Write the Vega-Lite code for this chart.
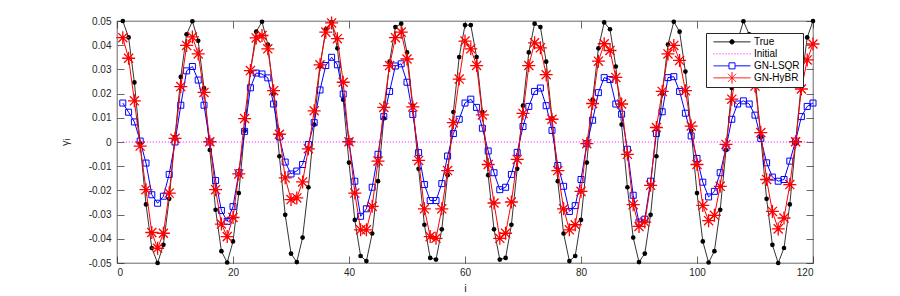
{
"$schema": "https://vega.github.io/schema/vega-lite/v6.json",
"width": 696, "height": 242,
"autosize": {"type": "none"},
"padding": {"left": 117, "top": 21, "right": 87, "bottom": 33},
"background": "white",
"config": {
  "view": {"stroke": "#262626", "strokeWidth": 0.7},
  "font": "Liberation Sans",
  "axis": {"labelFont": "Liberation Sans", "labelFontSize": 10, "labelColor": "#262626", "tickColor": "#262626", "tickWidth": 0.7, "domain": false, "grid": false, "titleFont": "Liberation Sans", "titleFontWeight": "normal", "titleFontSize": 11, "titleColor": "#262626"}
},
"data": {"values": [
{"i":1,"True":0.0500,"Initial":0,"GN-LSQR":0.0161,"GN-HyBR":0.0431},
{"i":2,"True":0.0432,"Initial":0,"GN-LSQR":0.0123,"GN-HyBR":0.0346},
{"i":3,"True":0.0246,"Initial":0,"GN-LSQR":0.0083,"GN-HyBR":0.0170},
{"i":4,"True":-0.0007,"Initial":0,"GN-LSQR":0.0004,"GN-HyBR":-0.0017},
{"i":5,"True":-0.0258,"Initial":0,"GN-LSQR":-0.0087,"GN-HyBR":-0.0197},
{"i":6,"True":-0.0438,"Initial":0,"GN-LSQR":-0.0218,"GN-HyBR":-0.0374},
{"i":7,"True":-0.0500,"Initial":0,"GN-LSQR":-0.0253,"GN-HyBR":-0.0439},
{"i":8,"True":-0.0425,"Initial":0,"GN-LSQR":-0.0224,"GN-HyBR":-0.0377},
{"i":9,"True":-0.0235,"Initial":0,"GN-LSQR":-0.0134,"GN-HyBR":-0.0211},
{"i":10,"True":0.0020,"Initial":0,"GN-LSQR":0.0000,"GN-HyBR":0.0015},
{"i":11,"True":0.0269,"Initial":0,"GN-LSQR":0.0152,"GN-HyBR":0.0229},
{"i":12,"True":0.0445,"Initial":0,"GN-LSQR":0.0294,"GN-HyBR":0.0399},
{"i":13,"True":0.0499,"Initial":0,"GN-LSQR":0.0312,"GN-HyBR":0.0434},
{"i":14,"True":0.0418,"Initial":0,"GN-LSQR":0.0256,"GN-HyBR":0.0364},
{"i":15,"True":0.0223,"Initial":0,"GN-LSQR":0.0152,"GN-HyBR":0.0205},
{"i":16,"True":-0.0033,"Initial":0,"GN-LSQR":0.0000,"GN-HyBR":0.0001},
{"i":17,"True":-0.0280,"Initial":0,"GN-LSQR":-0.0159,"GN-HyBR":-0.0197},
{"i":18,"True":-0.0451,"Initial":0,"GN-LSQR":-0.0283,"GN-HyBR":-0.0339},
{"i":19,"True":-0.0498,"Initial":0,"GN-LSQR":-0.0328,"GN-HyBR":-0.0391},
{"i":20,"True":-0.0411,"Initial":0,"GN-LSQR":-0.0267,"GN-HyBR":-0.0312},
{"i":21,"True":-0.0211,"Initial":0,"GN-LSQR":-0.0127,"GN-HyBR":-0.0132},
{"i":22,"True":0.0046,"Initial":0,"GN-LSQR":0.0044,"GN-HyBR":0.0097},
{"i":23,"True":0.0291,"Initial":0,"GN-LSQR":0.0224,"GN-HyBR":0.0295},
{"i":24,"True":0.0456,"Initial":0,"GN-LSQR":0.0285,"GN-HyBR":0.0430},
{"i":25,"True":0.0497,"Initial":0,"GN-LSQR":0.0281,"GN-HyBR":0.0440},
{"i":26,"True":0.0403,"Initial":0,"GN-LSQR":0.0265,"GN-HyBR":0.0385},
{"i":27,"True":0.0199,"Initial":0,"GN-LSQR":0.0157,"GN-HyBR":0.0212},
{"i":28,"True":-0.0059,"Initial":0,"GN-LSQR":0.0021,"GN-HyBR":0.0032},
{"i":29,"True":-0.0301,"Initial":0,"GN-LSQR":-0.0083,"GN-HyBR":-0.0148},
{"i":30,"True":-0.0461,"Initial":0,"GN-LSQR":-0.0132,"GN-HyBR":-0.0238},
{"i":31,"True":-0.0496,"Initial":0,"GN-LSQR":-0.0120,"GN-HyBR":-0.0231},
{"i":32,"True":-0.0395,"Initial":0,"GN-LSQR":-0.0093,"GN-HyBR":-0.0165},
{"i":33,"True":-0.0187,"Initial":0,"GN-LSQR":-0.0010,"GN-HyBR":-0.0028},
{"i":34,"True":0.0072,"Initial":0,"GN-LSQR":0.0080,"GN-HyBR":0.0129},
{"i":35,"True":0.0312,"Initial":0,"GN-LSQR":0.0215,"GN-HyBR":0.0319},
{"i":36,"True":0.0466,"Initial":0,"GN-LSQR":0.0316,"GN-HyBR":0.0454},
{"i":37,"True":0.0494,"Initial":0,"GN-LSQR":0.0350,"GN-HyBR":0.0492},
{"i":38,"True":0.0387,"Initial":0,"GN-LSQR":0.0319,"GN-HyBR":0.0427},
{"i":39,"True":0.0175,"Initial":0,"GN-LSQR":0.0198,"GN-HyBR":0.0247},
{"i":40,"True":-0.0085,"Initial":0,"GN-LSQR":0.0001,"GN-HyBR":0.0001},
{"i":41,"True":-0.0322,"Initial":0,"GN-LSQR":-0.0162,"GN-HyBR":-0.0211},
{"i":42,"True":-0.0471,"Initial":0,"GN-LSQR":-0.0307,"GN-HyBR":-0.0363},
{"i":43,"True":-0.0492,"Initial":0,"GN-LSQR":-0.0276,"GN-HyBR":-0.0363},
{"i":44,"True":-0.0378,"Initial":0,"GN-LSQR":-0.0187,"GN-HyBR":-0.0266},
{"i":45,"True":-0.0162,"Initial":0,"GN-LSQR":-0.0051,"GN-HyBR":-0.0079},
{"i":46,"True":0.0098,"Initial":0,"GN-LSQR":0.0105,"GN-HyBR":0.0143},
{"i":47,"True":0.0332,"Initial":0,"GN-LSQR":0.0209,"GN-HyBR":0.0316},
{"i":48,"True":0.0475,"Initial":0,"GN-LSQR":0.0314,"GN-HyBR":0.0431},
{"i":49,"True":0.0489,"Initial":0,"GN-LSQR":0.0323,"GN-HyBR":0.0454},
{"i":50,"True":0.0370,"Initial":0,"GN-LSQR":0.0247,"GN-HyBR":0.0343},
{"i":51,"True":0.0150,"Initial":0,"GN-LSQR":0.0114,"GN-HyBR":0.0145},
{"i":52,"True":-0.0111,"Initial":0,"GN-LSQR":-0.0044,"GN-HyBR":-0.0076},
{"i":53,"True":-0.0342,"Initial":0,"GN-LSQR":-0.0176,"GN-HyBR":-0.0276},
{"i":54,"True":-0.0479,"Initial":0,"GN-LSQR":-0.0242,"GN-HyBR":-0.0391},
{"i":55,"True":-0.0486,"Initial":0,"GN-LSQR":-0.0242,"GN-HyBR":-0.0398},
{"i":56,"True":-0.0361,"Initial":0,"GN-LSQR":-0.0172,"GN-HyBR":-0.0276},
{"i":57,"True":-0.0137,"Initial":0,"GN-LSQR":-0.0058,"GN-HyBR":-0.0118},
{"i":58,"True":0.0124,"Initial":0,"GN-LSQR":0.0035,"GN-HyBR":0.0080},
{"i":59,"True":0.0351,"Initial":0,"GN-LSQR":0.0094,"GN-HyBR":0.0260},
{"i":60,"True":0.0483,"Initial":0,"GN-LSQR":0.0161,"GN-HyBR":0.0417},
{"i":61,"True":0.0483,"Initial":0,"GN-LSQR":0.0177,"GN-HyBR":0.0385},
{"i":62,"True":0.0351,"Initial":0,"GN-LSQR":0.0143,"GN-HyBR":0.0316},
{"i":63,"True":0.0124,"Initial":0,"GN-LSQR":0.0057,"GN-HyBR":0.0112},
{"i":64,"True":-0.0137,"Initial":0,"GN-LSQR":-0.0037,"GN-HyBR":-0.0093},
{"i":65,"True":-0.0361,"Initial":0,"GN-LSQR":-0.0127,"GN-HyBR":-0.0252},
{"i":66,"True":-0.0486,"Initial":0,"GN-LSQR":-0.0197,"GN-HyBR":-0.0398},
{"i":67,"True":-0.0479,"Initial":0,"GN-LSQR":-0.0187,"GN-HyBR":-0.0377},
{"i":68,"True":-0.0342,"Initial":0,"GN-LSQR":-0.0134,"GN-HyBR":-0.0248},
{"i":69,"True":-0.0111,"Initial":0,"GN-LSQR":-0.0043,"GN-HyBR":-0.0072},
{"i":70,"True":0.0150,"Initial":0,"GN-LSQR":0.0064,"GN-HyBR":0.0118},
{"i":71,"True":0.0370,"Initial":0,"GN-LSQR":0.0147,"GN-HyBR":0.0316},
{"i":72,"True":0.0489,"Initial":0,"GN-LSQR":0.0209,"GN-HyBR":0.0410},
{"i":73,"True":0.0475,"Initial":0,"GN-LSQR":0.0223,"GN-HyBR":0.0389},
{"i":74,"True":0.0332,"Initial":0,"GN-LSQR":0.0150,"GN-HyBR":0.0278},
{"i":75,"True":0.0098,"Initial":0,"GN-LSQR":0.0048,"GN-HyBR":0.0094},
{"i":76,"True":-0.0162,"Initial":0,"GN-LSQR":-0.0097,"GN-HyBR":-0.0118},
{"i":77,"True":-0.0378,"Initial":0,"GN-LSQR":-0.0183,"GN-HyBR":-0.0276},
{"i":78,"True":-0.0492,"Initial":0,"GN-LSQR":-0.0287,"GN-HyBR":-0.0363},
{"i":79,"True":-0.0471,"Initial":0,"GN-LSQR":-0.0263,"GN-HyBR":-0.0342},
{"i":80,"True":-0.0322,"Initial":0,"GN-LSQR":-0.0155,"GN-HyBR":-0.0204},
{"i":81,"True":-0.0085,"Initial":0,"GN-LSQR":-0.0007,"GN-HyBR":-0.0007},
{"i":82,"True":0.0175,"Initial":0,"GN-LSQR":0.0090,"GN-HyBR":0.0159},
{"i":83,"True":0.0387,"Initial":0,"GN-LSQR":0.0204,"GN-HyBR":0.0334},
{"i":84,"True":0.0494,"Initial":0,"GN-LSQR":0.0266,"GN-HyBR":0.0406},
{"i":85,"True":0.0466,"Initial":0,"GN-LSQR":0.0258,"GN-HyBR":0.0378},
{"i":86,"True":0.0312,"Initial":0,"GN-LSQR":0.0157,"GN-HyBR":0.0267},
{"i":87,"True":0.0072,"Initial":0,"GN-LSQR":0.0115,"GN-HyBR":0.0157},
{"i":88,"True":-0.0187,"Initial":0,"GN-LSQR":-0.0030,"GN-HyBR":-0.0051},
{"i":89,"True":-0.0395,"Initial":0,"GN-LSQR":-0.0220,"GN-HyBR":-0.0259},
{"i":90,"True":-0.0496,"Initial":0,"GN-LSQR":-0.0331,"GN-HyBR":-0.0349},
{"i":91,"True":-0.0461,"Initial":0,"GN-LSQR":-0.0319,"GN-HyBR":-0.0331},
{"i":92,"True":-0.0301,"Initial":0,"GN-LSQR":-0.0162,"GN-HyBR":-0.0179},
{"i":93,"True":-0.0059,"Initial":0,"GN-LSQR":0.0035,"GN-HyBR":0.0060},
{"i":94,"True":0.0199,"Initial":0,"GN-LSQR":0.0125,"GN-HyBR":0.0209},
{"i":95,"True":0.0403,"Initial":0,"GN-LSQR":0.0266,"GN-HyBR":0.0364},
{"i":96,"True":0.0497,"Initial":0,"GN-LSQR":0.0270,"GN-HyBR":0.0399},
{"i":97,"True":0.0456,"Initial":0,"GN-LSQR":0.0209,"GN-HyBR":0.0337},
{"i":98,"True":0.0291,"Initial":0,"GN-LSQR":0.0119,"GN-HyBR":0.0212},
{"i":99,"True":0.0046,"Initial":0,"GN-LSQR":0.0025,"GN-HyBR":0.0066},
{"i":100,"True":-0.0211,"Initial":0,"GN-LSQR":-0.0068,"GN-HyBR":-0.0093},
{"i":101,"True":-0.0411,"Initial":0,"GN-LSQR":-0.0166,"GN-HyBR":-0.0262},
{"i":102,"True":-0.0498,"Initial":0,"GN-LSQR":-0.0227,"GN-HyBR":-0.0325},
{"i":103,"True":-0.0451,"Initial":0,"GN-LSQR":-0.0204,"GN-HyBR":-0.0303},
{"i":104,"True":-0.0280,"Initial":0,"GN-LSQR":-0.0127,"GN-HyBR":-0.0183},
{"i":105,"True":-0.0033,"Initial":0,"GN-LSQR":-0.0024,"GN-HyBR":-0.0010},
{"i":106,"True":0.0223,"Initial":0,"GN-LSQR":0.0094,"GN-HyBR":0.0177},
{"i":107,"True":0.0418,"Initial":0,"GN-LSQR":0.0157,"GN-HyBR":0.0320},
{"i":108,"True":0.0499,"Initial":0,"GN-LSQR":0.0170,"GN-HyBR":0.0400},
{"i":109,"True":0.0445,"Initial":0,"GN-LSQR":0.0157,"GN-HyBR":0.0350},
{"i":110,"True":0.0269,"Initial":0,"GN-LSQR":0.0111,"GN-HyBR":0.0231},
{"i":111,"True":0.0020,"Initial":0,"GN-LSQR":0.0015,"GN-HyBR":0.0039},
{"i":112,"True":-0.0235,"Initial":0,"GN-LSQR":-0.0086,"GN-HyBR":-0.0155},
{"i":113,"True":-0.0425,"Initial":0,"GN-LSQR":-0.0145,"GN-HyBR":-0.0287},
{"i":114,"True":-0.0500,"Initial":0,"GN-LSQR":-0.0162,"GN-HyBR":-0.0359},
{"i":115,"True":-0.0438,"Initial":0,"GN-LSQR":-0.0155,"GN-HyBR":-0.0314},
{"i":116,"True":-0.0258,"Initial":0,"GN-LSQR":-0.0079,"GN-HyBR":-0.0176},
{"i":117,"True":-0.0007,"Initial":0,"GN-LSQR":0.0004,"GN-HyBR":0.0001},
{"i":118,"True":0.0246,"Initial":0,"GN-LSQR":0.0105,"GN-HyBR":0.0219},
{"i":119,"True":0.0432,"Initial":0,"GN-LSQR":0.0147,"GN-HyBR":0.0339},
{"i":120,"True":0.0500,"Initial":0,"GN-LSQR":0.0161,"GN-HyBR":0.0405}
]},
"transform": [{"fold": ["True", "Initial", "GN-LSQR", "GN-HyBR"], "as": ["series", "value"]}],
"encoding": {
  "color": {"field": "series", "type": "nominal",
    "scale": {"domain": ["True", "Initial", "GN-LSQR", "GN-HyBR"], "range": ["#000000", "#ff00ff", "#0000ff", "#ff0000"]},
    "legend": {
      "title": null, "orient": "none", "legendX": 589, "legendY": 12,
      "padding": 3, "fillColor": "white", "strokeColor": "#262626",
      "labelFont": "Liberation Sans", "labelFontSize": 10, "labelColor": "#000000", "labelAlign": "left",
      "symbolSize": 81, "symbolOffset": 18, "labelOffset": 17, "rowPadding": 0, "clipHeight": 11.7,
      "encode": {"symbols": {"update": {
        "shape": {"signal": "datum.value === 'True' ? 'M-4.11,0H4.11M0.49,0A0.49,0.49,0,1,1,-0.49,0A0.49,0.49,0,1,1,0.49,0' : datum.value === 'Initial' ? 'M-4.11,0H4.11' : datum.value === 'GN-LSQR' ? 'M-4.11,0H-0.67M0.67,0H4.11M-0.67,-0.67H0.67V0.67H-0.67Z' : 'M-4.11,0H4.11M0,-1.3V1.3M-0.92,-0.92L0.92,0.92M-0.92,0.92L0.92,-0.92'"},
        "fillOpacity": {"signal": "datum.value === 'True' ? 1 : 0"},
        "strokeOpacity": {"value": 1},
        "strokeDash": {"signal": "datum.value === 'Initial' ? [1,2] : [1,0]"},
        "strokeWidth": {"value": 1},
        "size": {"value": 81},
        "opacity": {"value": 1}
      }}}
    }
  }
},
"resolve": {"axis": {"x": "independent", "y": "independent"}},
"layer": [
  {
    "transform": [{"filter": "datum.series === 'Initial'"}],
    "encoding": {
      "x": {"field": "i", "type": "quantitative", "scale": {"domain": [0, 120], "nice": false, "zero": false},
        "axis": {"orient": "top", "values": [0, 20, 40, 60, 80, 100, 120], "labels": false, "tickSize": -7, "title": null}},
      "y": {"field": "value", "type": "quantitative", "scale": {"domain": [-0.05, 0.05], "nice": false},
        "axis": {"orient": "right", "values": [-0.05, -0.04, -0.03, -0.02, -0.01, 0, 0.01, 0.02, 0.03, 0.04, 0.05], "labels": false, "tickSize": -7, "title": null}}
    },
    "mark": {"type": "line", "strokeDash": [1, 2], "strokeWidth": 1}
  },
  {
    "encoding": {
      "x": {"field": "i", "type": "quantitative", "scale": {"domain": [0, 120], "nice": false, "zero": false},
        "axis": {"orient": "bottom", "values": [0, 20, 40, 60, 80, 100, 120], "format": "d", "tickSize": -7, "labelPadding": 11, "title": "i", "titlePadding": 5}},
      "y": {"field": "value", "type": "quantitative", "scale": {"domain": [-0.05, 0.05], "nice": false},
        "axis": {"orient": "left", "values": [-0.05, -0.04, -0.03, -0.02, -0.01, 0, 0.01, 0.02, 0.03, 0.04, 0.05],
          "labelExpr": "datum.value === 0 ? '0' : (datum.value < 0 ? '-' : '') + format(abs(datum.value), '.2f')",
          "tickSize": -7, "labelPadding": 13, "title": "γᵢ", "titlePadding": 18}}
    },
    "layer": [
      {"transform": [{"filter": "datum.series === 'True'"}], "mark": {"type": "line", "strokeWidth": 0.8}},
      {"transform": [{"filter": "datum.series === 'True'"}], "mark": {"type": "point", "shape": "circle", "filled": true, "size": 22, "opacity": 1}},
      {"transform": [{"filter": "datum.series === 'GN-LSQR'"}], "mark": {"type": "line", "strokeWidth": 1}},
      {"transform": [{"filter": "datum.series === 'GN-LSQR'"}], "mark": {"type": "point", "shape": "square", "filled": false, "size": 36, "strokeWidth": 1, "opacity": 1}},
      {"transform": [{"filter": "datum.series === 'GN-HyBR'"}], "mark": {"type": "line", "strokeWidth": 1}},
      {"transform": [{"filter": "datum.series === 'GN-HyBR'"}], "mark": {"type": "point", "shape": "M-1,0L1,0M0,-1L0,1M-0.7,-0.7L0.7,0.7M-0.7,0.7L0.7,-0.7", "filled": false, "size": 169, "strokeWidth": 1.3, "opacity": 1}}
    ]
  }
]
}
